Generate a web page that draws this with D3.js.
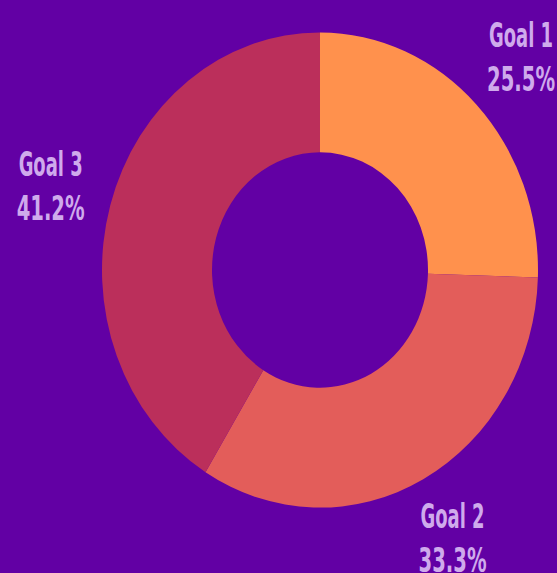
<!DOCTYPE html>
<html>
<head>
<meta charset="utf-8">
<script src="https://cdn.jsdelivr.net/npm/d3@7"></script>
<style>
  html, body { margin: 0; padding: 0; background: #6200a4; overflow: hidden; }
  svg { display: block; }
</style>
</head>
<body>
<svg id="chart" width="557" height="573"></svg>
<script>
const categories = ["Goal 1", "Goal 2", "Goal 3"];
const values = [25.5, 33.3, 41.2];
const labels = ["25.5%", "33.3%", "41.2%"];
const colors = ["#ff914d", "#e35d5a", "#bb2f5b"];

const W = 557, H = 573;
const cx = 320, cy = 270;
const outerR = 218, innerR = 108, labelR = 280;
const yStretch = 1.09;

const svg = d3.select("#chart");
svg.append("rect").attr("width", W).attr("height", H).attr("fill", "#6200a4");

const data = categories.map((c, i) => ({ name: c, value: values[i], label: labels[i], color: colors[i] }));

const pie = d3.pie().value(d => d.value).sort(null);
const arcs = pie(data);
const arc = d3.arc().innerRadius(innerR).outerRadius(outerR);
const labelArc = d3.arc().innerRadius(labelR).outerRadius(labelR);

const g = svg.append("g").attr("transform", `translate(${cx},${cy}) scale(1,${yStretch})`);
g.selectAll("path").data(arcs).join("path")
  .attr("d", arc)
  .attr("fill", d => d.data.color);

const lg = svg.append("g").attr("transform", `translate(${cx},${cy})`);
const labelsSel = lg.selectAll("g.lbl").data(arcs).join("g")
  .attr("class", "lbl")
  .attr("transform", d => {
    const [x, y] = labelArc.centroid(d);
    return `translate(${x},${y * yStretch})`;
  });

const fontFam = "'DejaVu Sans Condensed', 'DejaVu Sans', sans-serif";
labelsSel.append("text")
  .attr("y", -11)
  .attr("text-anchor", "middle")
  .attr("font-family", fontFam)
  .attr("font-weight", "bold")
  .attr("font-size", 33)
  .attr("fill", "#cfaaec")
  .attr("textLength", 64)
  .attr("lengthAdjust", "spacingAndGlyphs")
  .text(d => d.data.name);

labelsSel.append("text")
  .attr("y", 33)
  .attr("text-anchor", "middle")
  .attr("font-family", fontFam)
  .attr("font-weight", "bold")
  .attr("font-size", 33)
  .attr("fill", "#cfaaec")
  .attr("textLength", 68)
  .attr("lengthAdjust", "spacingAndGlyphs")
  .text(d => d.data.label);
</script>
</body>
</html>
